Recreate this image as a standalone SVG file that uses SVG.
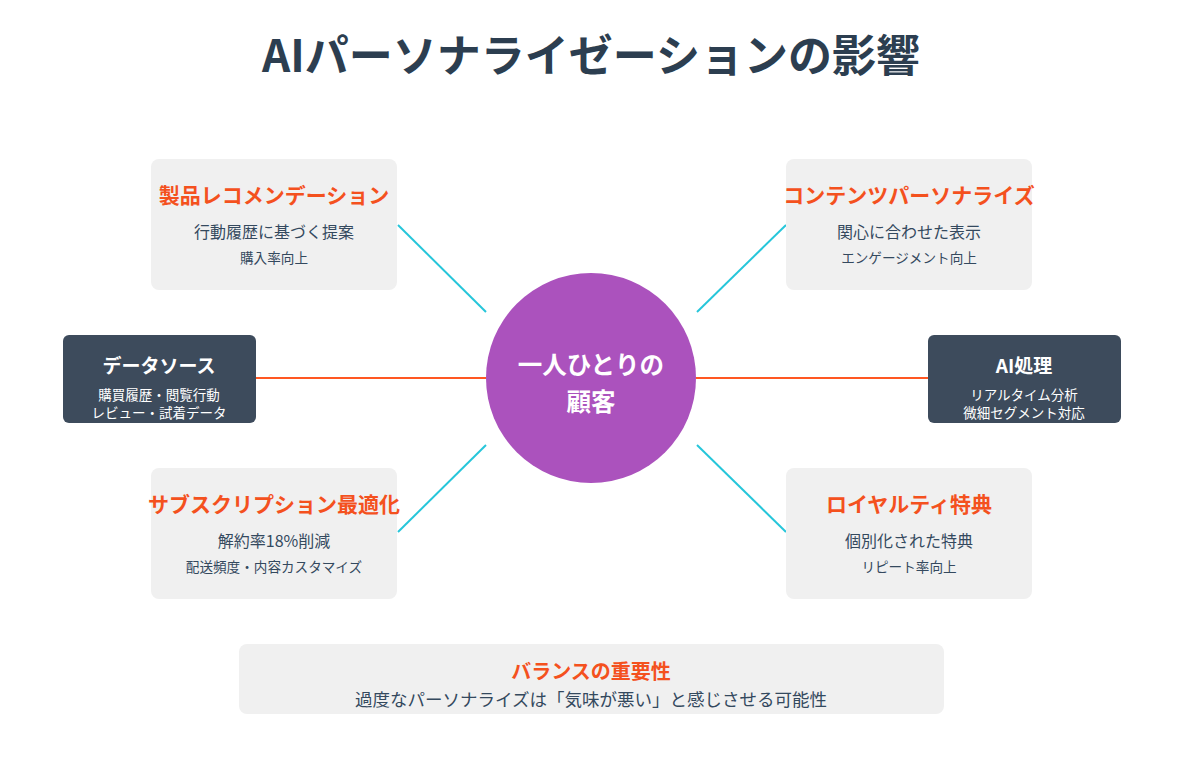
<svg xmlns="http://www.w3.org/2000/svg" width="1200" height="764" viewBox="0 0 1200 764">
<style>
text{font-family:"Noto Sans CJK JP","Noto Sans",sans-serif;text-anchor:middle}
.title{font-size:44px;font-weight:700;fill:#2c3e50}
.card{fill:#f0f0f0}
.dark{fill:#3d4b5c}
.h{font-size:21px;font-weight:700;fill:#f4511e}
.s1{font-size:16px;fill:#34495e}
.s2{font-size:13.6px;fill:#34495e}
.dh{font-size:19px;font-weight:700;fill:#fff}
.ds{font-size:13.5px;fill:#fff}
.c{font-size:24.5px;font-weight:700;fill:#fff}
.lo{stroke:#ff5722;stroke-width:2}
.lc{stroke:#26c6da;stroke-width:2}
</style>
<rect width="1200" height="764" fill="#fff"/>
<text class="title" x="591" y="72">AIパーソナライゼーションの影響</text>
<g id="connectors">
<line class="lo" x1="256" y1="378" x2="486" y2="378"/>
<line class="lo" x1="696" y1="378" x2="928" y2="378"/>
<line class="lc" x1="398" y1="225" x2="486" y2="312"/>
<line class="lc" x1="697" y1="312" x2="786" y2="225"/>
<line class="lc" x1="398" y1="532" x2="486" y2="445"/>
<line class="lc" x1="697" y1="445" x2="786" y2="532"/>
</g>
<g id="center">
<circle cx="591" cy="378" r="105" fill="#ab52bd"/>
<text class="c" x="591" y="374">一人ひとりの</text>
<text class="c" x="591" y="411">顧客</text>
</g>
<g id="recommend">
<rect class="card" x="151" y="159" width="246" height="131" rx="8"/>
<text class="h" x="274" y="203">製品レコメンデーション</text>
<text class="s1" x="274" y="238">行動履歴に基づく提案</text>
<text class="s2" x="274" y="263">購入率向上</text>
</g>
<g id="content">
<rect class="card" x="786" y="159" width="246" height="131" rx="8"/>
<text class="h" x="909" y="203">コンテンツパーソナライズ</text>
<text class="s1" x="909" y="238">関心に合わせた表示</text>
<text class="s2" x="909" y="263">エンゲージメント向上</text>
</g>
<g id="datasource">
<rect class="dark" x="63" y="335" width="193" height="88" rx="6"/>
<text class="dh" x="159" y="373">データソース</text>
<text class="ds" x="159" y="400">購買履歴・閲覧行動</text>
<text class="ds" x="159" y="418">レビュー・試着データ</text>
</g>
<g id="ai">
<rect class="dark" x="928" y="335" width="193" height="88" rx="6"/>
<text class="dh" x="1024" y="373">AI処理</text>
<text class="ds" x="1024" y="400">リアルタイム分析</text>
<text class="ds" x="1024" y="418">微細セグメント対応</text>
</g>
<g id="subscription">
<rect class="card" x="151" y="468" width="246" height="131" rx="8"/>
<text class="h" x="274" y="512">サブスクリプション最適化</text>
<text class="s1" x="274" y="547">解約率18%削減</text>
<text class="s2" x="274" y="572">配送頻度・内容カスタマイズ</text>
</g>
<g id="loyalty">
<rect class="card" x="786" y="468" width="246" height="131" rx="8"/>
<text class="h" x="909" y="512">ロイヤルティ特典</text>
<text class="s1" x="909" y="547">個別化された特典</text>
<text class="s2" x="909" y="572">リピート率向上</text>
</g>
<g id="balance">
<rect class="card" x="239" y="644" width="705" height="70" rx="8"/>
<text class="h" x="591" y="679" style="font-size:20px">バランスの重要性</text>
<text class="s1" x="591" y="706" style="font-size:17.5px">過度なパーソナライズは「気味が悪い」と感じさせる可能性</text>
</g>
</svg>
